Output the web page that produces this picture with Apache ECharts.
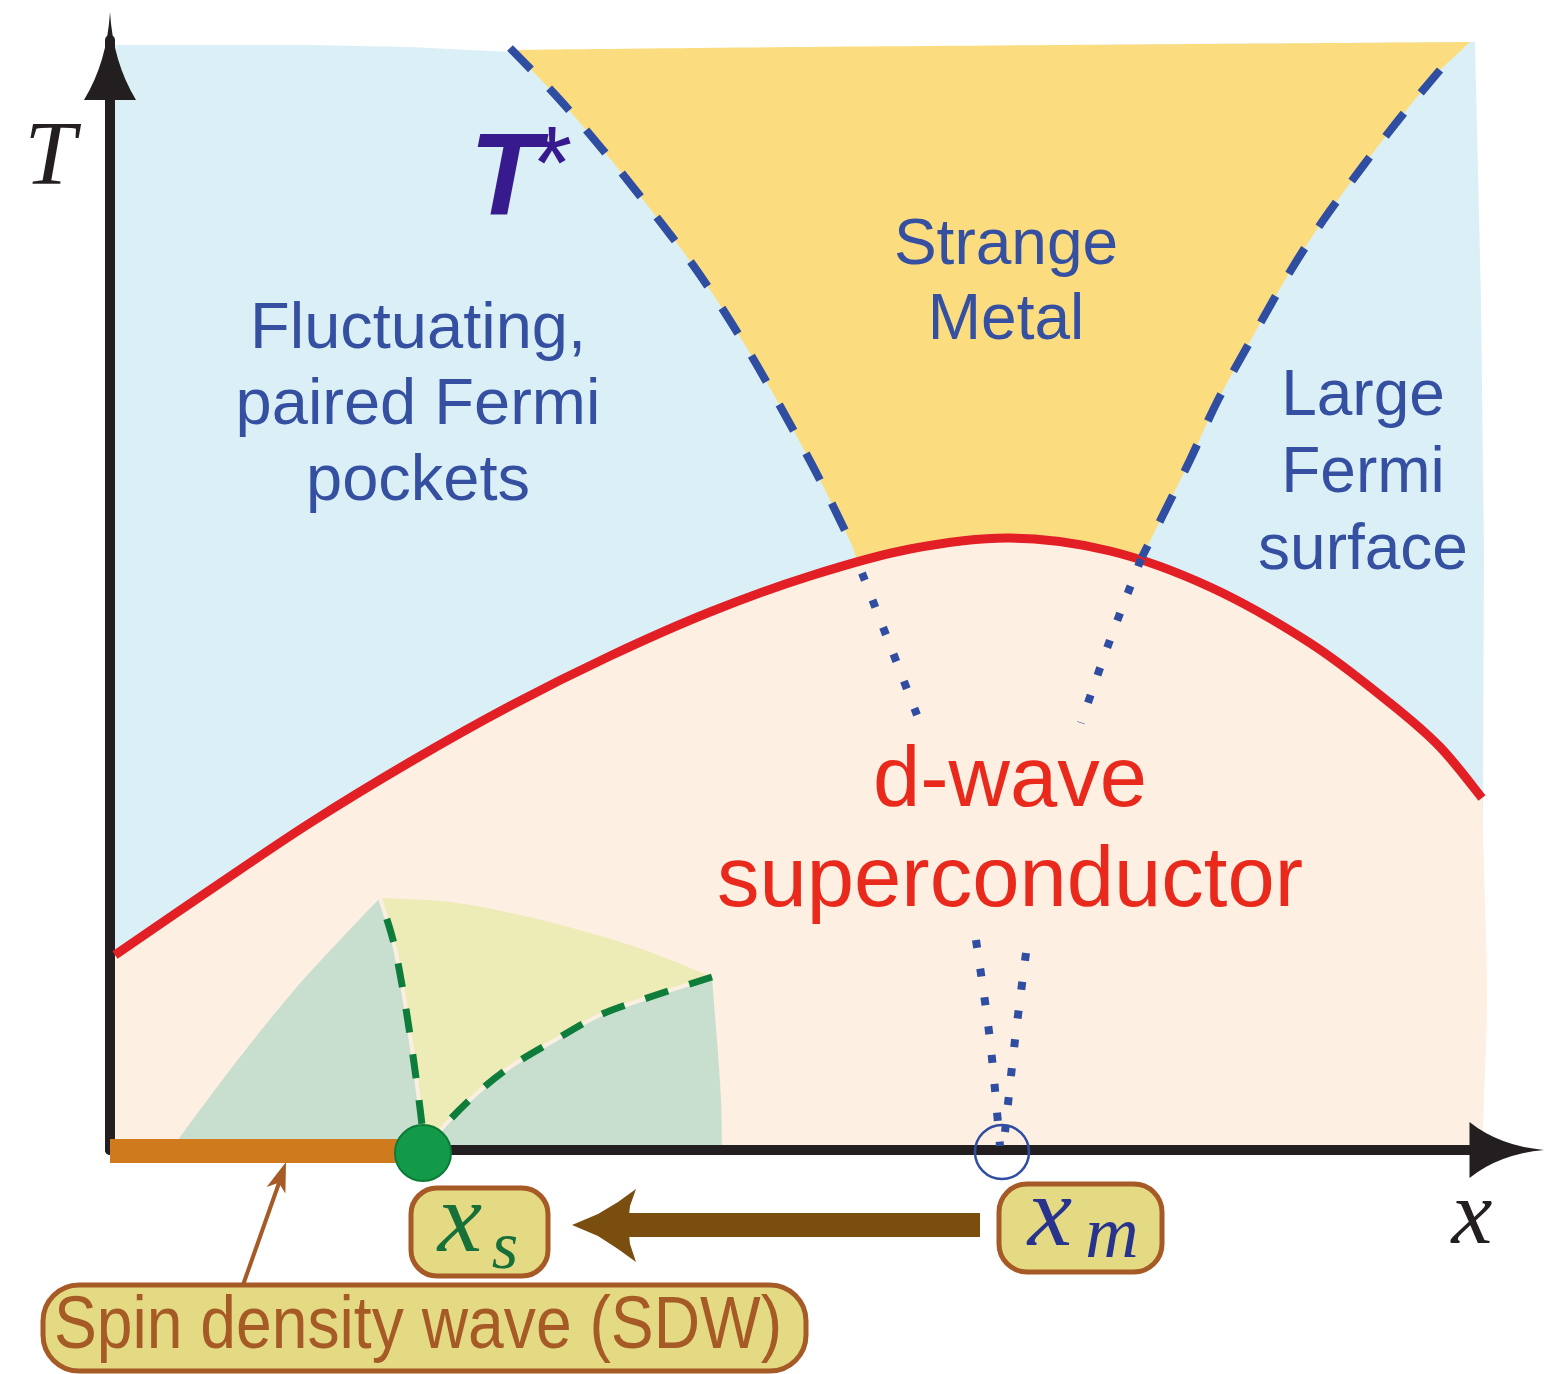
<!DOCTYPE html>
<html><head><meta charset="utf-8">
<script src="https://cdn.jsdelivr.net/npm/echarts@6/dist/echarts.min.js"></script>
<style>html,body{margin:0;padding:0;background:#fff}#c{width:1544px;height:1374px}</style>
</head><body><div id="c"></div>
<script>
// ---- axis ranges (doping x, temperature T), arbitrary units ----
const X_RANGE = [0, 137];
const T_RANGE = [0, 111];

// ---- superconducting dome Tc(x) ----
const tcDome = [[0.5,19.5],[10,26],[20,32.7],[30,38.8],[40,44.4],[50,49.4],[60,53.8],[70,57.4],[80,60.1],[90,61.2],[100,59.9],[110,56.3],[120,50.7],[128,44.7],[133,40.3],[137.2,35.2]];
// ---- T* crossover lines ----
const tStarLeft = [[40,110.2],[45,105],[49.7,99.5],[54.5,93.5],[59,87.5],[63.5,80.5],[67.5,73.5],[71,67],[74.2,60.5]];
const tStarRight = [[133,108],[129,103.2],[125,98],[121.2,92.8],[117.8,87.5],[114.2,81.2],[110.8,75],[108,69],[105.3,63.5],[103.2,59.3]];
const tStarLeftInDome = [[75.2,57.7],[77.8,51],[80.7,43.5]];
const tStarRightInDome = [[103.1,59.1],[100,51],[97.1,42.7]];
const xmLeft = [[86.6,21],[88,11],[89,0.4]];
const xmRight = [[91.6,19.7],[90.5,11],[89.5,1.8]];
// ---- region outlines ----
const topEdge = [[0,110.5],[20,110.5],[30,110.3],[40,109.8],[70,110.2],[105,110.6],[136.5,110.8]];
const largeFSEdge = [[136.5,110.8],[137.1,85],[137.4,60],[137.3,35],[137,0]];
const strangeMetalTop = [[40,110],[69,110.3],[109,110.6],[136,110.8]];
const scRightEdge = [[137.2,35.2],[137.5,25],[137.7,15],[137.4,5],[137.2,0]];
// ---- SDW region near x_s ----
const sdwEdge = [[6.2,0.2],[12,8],[18,15.5],[23,21],[27,25.2]];
const sdwLineA = [[27,25.2],[28.3,21],[29.2,16.5],[30,11.5],[30.7,6.5],[31.2,2.5],[31.4,0]];
const sdwTop = [[27,25.2],[34,24.8],[41,23.5],[48,21.7],[54,19.8],[60.2,17.3]];
const sdwLineB = [[60.2,17.3],[54,15.3],[49,13.5],[44.5,11],[40,8.3],[36.5,5.5],[33.5,2.5],[31.5,0]];
const sdwRightEdge = [[60.2,17.3],[60.7,11],[61.1,5],[61.2,0]];
const sdwRange = [0, 29.5];
const xsPoint = [31.3, -0.3];
const xmPoint = [89.2, -0.2];

// ---- labels ----
const regionLabels = ['Fluctuating,\npaired Fermi\npockets', 'Strange\nMetal', 'Large\nFermi\nsurface', 'd-wave\nsuperconductor'];
const axisNames = ['T', 'x'];
const sdwLabel = 'Spin density wave (SDW)';

const C = {
  bg: '#dbf0f6', yellow: '#fbdd80', peach: '#fdefe2', green: '#c8dfcf', ygreen: '#edebb6',
  red: '#e31f26', dash: '#2f4ea2', text: '#3550a1', redText: '#e8291c', axis: '#231f20',
  gdash: '#0e7d3b', box: '#e4da84', boxLine: '#a65a26', brown: '#7a4e0f'
};

function sm(pts, move) {
  let d = (move ? 'M' : 'L') + pts[0][0] + ',' + pts[0][1];
  for (let i = 0; i < pts.length - 1; i++) {
    const p0 = pts[i - 1] || pts[i], p1 = pts[i], p2 = pts[i + 1], p3 = pts[i + 2] || pts[i + 1];
    const c1x = p1[0] + (p2[0] - p0[0]) / 6, c1y = p1[1] + (p2[1] - p0[1]) / 6;
    const c2x = p2[0] - (p3[0] - p1[0]) / 6, c2y = p2[1] - (p3[1] - p1[1]) / 6;
    d += ' C' + c1x + ',' + c1y + ' ' + c2x + ',' + c2y + ' ' + p2[0] + ',' + p2[1];
  }
  return d;
}
function rev(a) { return a.slice().reverse(); }

function regionsItem(params, api) {
  const P = pts => pts.map(p => api.coord(p));
  const L = p => { const q = api.coord(p); return ' L' + q[0] + ',' + q[1]; };
  const fillPath = (d, fill) => ({ type: 'path', shape: { pathData: d }, style: { fill: fill, stroke: null } });
  const strip = pts => ({ type: 'path', shape: { pathData: sm(P(pts), true) }, style: { fill: null, stroke: '#fbefe1', lineWidth: 4 } });
  return { type: 'group', children: [
    { type: 'polygon', shape: { points: P(topEdge.concat(largeFSEdge.slice(1), [[0, 0]])) }, style: { fill: C.bg } },
    fillPath(sm(P(strangeMetalTop), true) + sm(P(tStarRight), false) + L([101.5, 55]) + L([76, 55]) + sm(P(rev(tStarLeft)), false) + ' Z', C.yellow),
    fillPath(sm(P(tcDome), true) + sm(P(scRightEdge), false) + L([0, 0]) + L([0, 19.5]) + ' Z', C.peach),
    fillPath(sm(P(sdwEdge), true) + sm(P(sdwLineA), false) + ' Z', C.green),
    fillPath(sm(P(sdwTop), true) + sm(P(sdwLineB), false) + sm(P(rev(sdwLineA)), false) + ' Z', C.ygreen),
    fillPath(sm(P(sdwRightEdge), true) + L([31.5, 0]) + sm(P(rev(sdwLineB)), false) + ' Z', C.green),
    strip(sdwLineA), strip(sdwLineB)
  ] };
}

function linesItem(params, api) {
  const P = pts => pts.map(p => api.coord(p));
  const stroke = (pts, color, w, dash, off) => ({ type: 'path', shape: { pathData: sm(P(pts), true) },
    style: { fill: null, stroke: color, lineWidth: w, lineDash: dash || null, lineDashOffset: off || 0, lineCap: 'butt', lineJoin: 'round' } });
  return { type: 'group', children: [
    stroke(tcDome, C.red, 9),
    stroke(tStarLeft, C.dash, 8, [30, 26]),
    stroke(tStarRight, C.dash, 8, [30, 26]),
    stroke(tStarLeftInDome, C.dash, 8, [8, 21]),
    stroke(tStarRightInDome, C.dash, 8, [8, 21]),
    stroke(xmLeft, C.dash, 8, [8, 21]),
    stroke(xmRight, C.dash, 8, [8, 21]),
    stroke(sdwLineA, C.gdash, 7, [24, 22], 24),
    stroke(sdwLineB, C.gdash, 7, [24, 22])
  ] };
}

function markersItem(params, api) {
  const a = api.coord([sdwRange[0], -0.1]), b = api.coord([sdwRange[1], -0.1]);
  const s = api.coord(xsPoint), m = api.coord(xmPoint);
  const unit = api.size([1, 0])[0];
  return { type: 'group', children: [
    { type: 'line', shape: { x1: a[0], y1: a[1], x2: b[0], y2: b[1] }, style: { stroke: '#cf7a1c', lineWidth: 24, lineCap: 'butt' } },
    { type: 'circle', shape: { cx: s[0], cy: s[1], r: 2.8 * unit }, style: { fill: '#139a48', stroke: '#0d7b38', lineWidth: 2 } },
    { type: 'circle', shape: { cx: m[0], cy: m[1], r: 2.7 * unit }, style: { fill: null, stroke: C.dash, lineWidth: 2.5 } }
  ] };
}

const chart = echarts.init(document.getElementById('c'), null, { renderer: 'canvas' });
const hide = { axisTick: { show: false }, axisLabel: { show: false }, splitLine: { show: false } };
const font = (size, family, style, weight) => ({ fontSize: size, fontFamily: family, fontStyle: style || 'normal', fontWeight: weight || 'normal' });
const SANS = '"Liberation Sans", Arial, sans-serif';
const SERIF = '"Liberation Serif", "Times New Roman", serif';

chart.setOption({
  animation: false,
  backgroundColor: '#fff',
  grid: { left: 110, right: 64, top: 40, bottom: 224, containLabel: false },
  xAxis: Object.assign({ type: 'value', min: X_RANGE[0], max: X_RANGE[1], z: 2,
    axisLine: { show: true, onZero: false, lineStyle: { color: C.axis, width: 10 },
      symbol: ['none', 'path://M28,0 Q32,45 56,75 L0,75 Q24,45 28,0 Z'], symbolSize: [56, 75], symbolOffset: [0, 27] } }, hide),
  yAxis: Object.assign({ type: 'value', min: T_RANGE[0], max: T_RANGE[1], z: 2,
    axisLine: { show: true, onZero: false, lineStyle: { color: C.axis, width: 10 },
      symbol: ['none', 'path://M26,0 Q29,50 52,88 L0,88 Q23,50 26,0 Z'], symbolSize: [52, 88], symbolOffset: [0, -16] } }, hide),
  series: [
    { type: 'custom', z: 1, silent: true, data: [[0, 0]], renderItem: regionsItem },
    { type: 'custom', z: 3, silent: true, data: [[0, 0]], renderItem: linesItem },
    { type: 'custom', z: 4, silent: true, data: [[0, 0]], renderItem: markersItem }
  ],
  graphic: [
    { type: 'text', x: 418, y: 406, z: 10, style: Object.assign({ text: regionLabels[0], fill: C.text, align: 'center', verticalAlign: 'middle', lineHeight: 76 }, font(65, SANS)) },
    { type: 'text', x: 1006, y: 284, z: 10, style: Object.assign({ text: regionLabels[1], fill: C.text, align: 'center', verticalAlign: 'middle', lineHeight: 75 }, font(64, SANS)) },
    { type: 'text', x: 1363, y: 474, z: 10, style: Object.assign({ text: regionLabels[2], fill: C.text, align: 'center', verticalAlign: 'middle', lineHeight: 77 }, font(64, SANS)) },
    { type: 'text', x: 1010, y: 833, z: 10, style: Object.assign({ text: regionLabels[3], fill: C.redText, align: 'center', verticalAlign: 'middle', lineHeight: 100 }, font(85, SANS)) },
    { type: 'text', x: 505, y: 183, z: 10, style: Object.assign({ text: 'T', fill: '#371a8e', align: 'center', verticalAlign: 'middle' }, font(116, SANS, 'italic', 'bold')) },
    { type: 'text', x: 552, y: 170, z: 10, style: Object.assign({ text: '*', fill: '#371a8e', align: 'center', verticalAlign: 'middle' }, font(104, SANS)) },
    { type: 'text', x: 50, y: 160, z: 10, style: Object.assign({ text: axisNames[0], fill: C.axis, align: 'center', verticalAlign: 'middle' }, font(92, SERIF, 'italic')) },
    { type: 'text', x: 1472, y: 1219, z: 10, style: Object.assign({ text: axisNames[1], fill: C.axis, align: 'center', verticalAlign: 'middle' }, font(92, SERIF, 'italic')) },
    // x_s / x_m boxes
    { type: 'rect', z: 10, shape: { x: 411, y: 1188, width: 137, height: 88, r: 26 }, style: { fill: C.box, stroke: C.boxLine, lineWidth: 5 } },
    { type: 'rect', z: 10, shape: { x: 999, y: 1184, width: 163, height: 88, r: 28 }, style: { fill: C.box, stroke: C.boxLine, lineWidth: 5 } },
    { type: 'rect', z: 10, shape: { x: 43, y: 1285, width: 763, height: 86, r: 36 }, style: { fill: C.box, stroke: C.boxLine, lineWidth: 5 } },
    { type: 'text', x: 460, y: 1225, z: 11, style: Object.assign({ text: 'x', fill: '#17703a', align: 'center', verticalAlign: 'middle' }, font(100, SERIF, 'italic')) },
    { type: 'text', x: 505, y: 1250, z: 11, style: Object.assign({ text: 's', fill: '#17703a', align: 'center', verticalAlign: 'middle' }, font(68, SERIF, 'italic')) },
    { type: 'text', x: 1050, y: 1219, z: 11, style: Object.assign({ text: 'x', fill: '#27338d', align: 'center', verticalAlign: 'middle' }, font(100, SERIF, 'italic')) },
    { type: 'text', x: 1112, y: 1238, z: 11, style: Object.assign({ text: 'm', fill: '#27338d', align: 'center', verticalAlign: 'middle' }, font(74, SERIF, 'italic')) },
    { type: 'text', x: 418, y: 1328, z: 11, scaleX: 0.868, style: Object.assign({ text: sdwLabel, fill: C.boxLine, align: 'center', verticalAlign: 'middle' }, font(74, SANS)) },
    // arrows
    { type: 'rect', z: 10, shape: { x: 626, y: 1213, width: 354, height: 24 }, style: { fill: C.brown } },
    { type: 'polygon', z: 10, shape: { points: [[572,1225],[598,1214],[618,1202],[636,1189],[630,1206],[628,1225],[630,1244],[636,1262],[618,1249],[598,1236]] }, style: { fill: C.brown } },
    { type: 'line', z: 10, shape: { x1: 243, y1: 1285, x2: 279, y2: 1183 }, style: { stroke: C.boxLine, lineWidth: 4 } },
    { type: 'polygon', z: 10, shape: { points: [[286,1162],[285.4,1193.6],[278.7,1182.7],[266.6,1187]] }, style: { fill: C.boxLine } }
  ]
});
</script></body></html>
